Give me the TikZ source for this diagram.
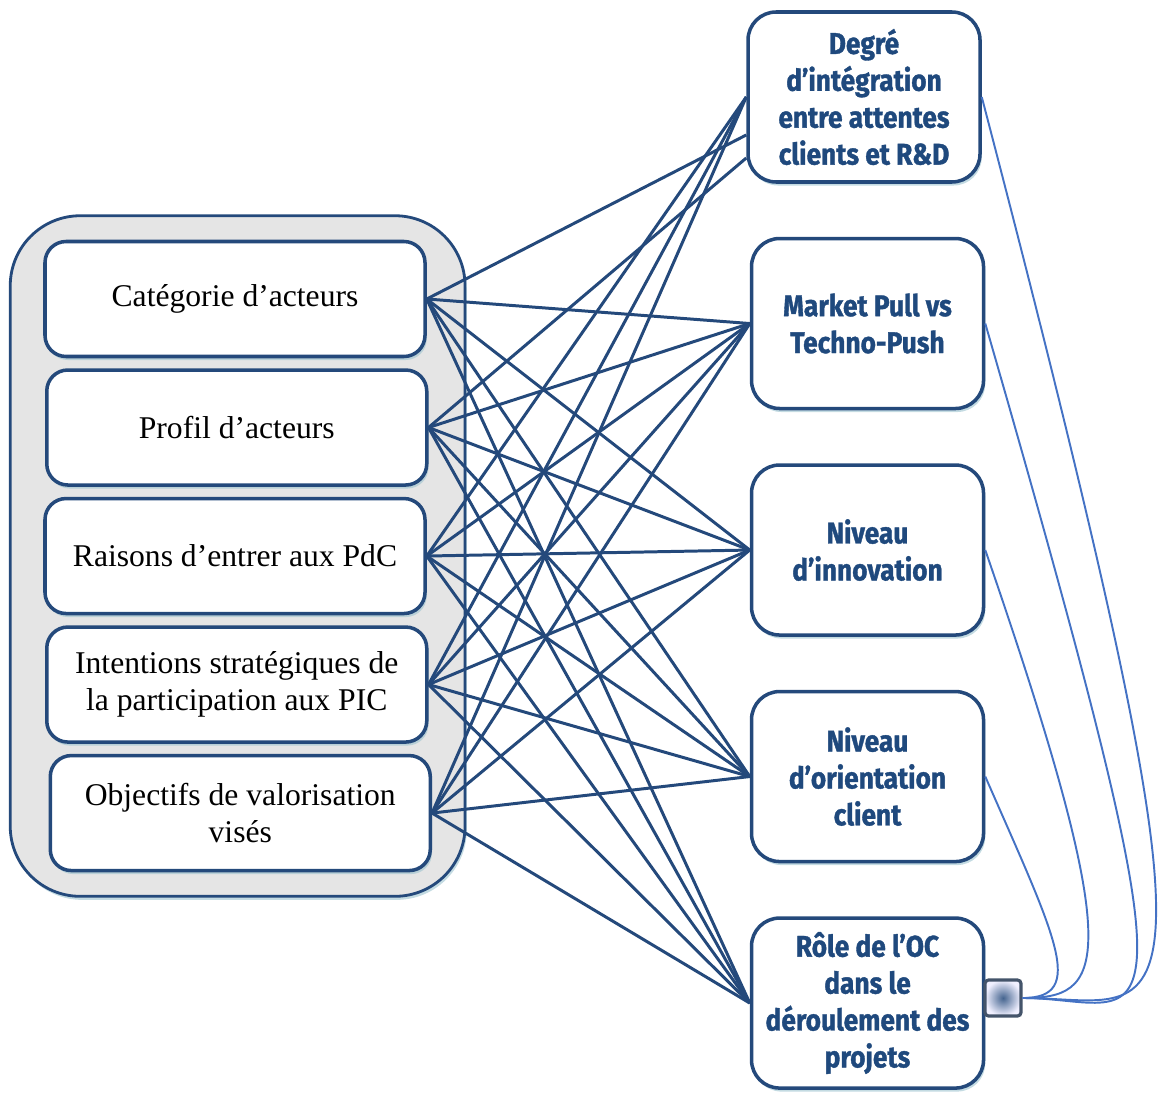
\documentclass[tikz,border=0pt]{standalone}
\usepackage{fontspec}
\setmainfont{Liberation Serif}
\newfontfamily\dimfont[FakeStretch=0.88,FakeBold=1.2]{Fira Sans}
\usepackage{tikz}
\usetikzlibrary{positioning,fit,backgrounds,shadows,calc}
\usepackage{xcolor}
\definecolor{linkblue}{HTML}{24497B}
\definecolor{dimtext}{HTML}{1F497D}
\definecolor{loopblue}{HTML}{4472C4}
\definecolor{glow}{HTML}{9CC3CF}
\definecolor{hubgray}{HTML}{44546A}

\begin{document}
\begin{tikzpicture}[
  crit/.style={draw=linkblue, line width=2pt, fill=white, rounded corners=12pt,
               minimum width=7.6cm, minimum height=2.3cm, align=center,
               font=\fontsize{18}{21}\selectfont,
               drop shadow={shadow xshift=1pt, shadow yshift=-2pt, fill=glow, opacity=.6}},
  dim/.style={draw=linkblue, line width=2pt, fill=white, rounded corners=16pt,
              minimum width=4.64cm, minimum height=3.4cm, align=center,
              text=dimtext, font=\dimfont\bfseries\fontsize{17}{21}\selectfont,
              drop shadow={shadow xshift=1pt, shadow yshift=-2pt, fill=glow, opacity=.6}},
  link/.style={linkblue, line width=1.7pt},
  loop/.style={loopblue, line width=1.1pt}
]
  \useasboundingbox (0,0) rectangle (23.22,-21.86);

  % criteres (gauche)
  \node[crit] (cat) at (4.7,-5.98) {Catégorie d’acteurs};
  \node[crit, below=0.2cm of cat, xshift=1pt] (prof) {Profil d’acteurs};
  \node[crit, below=0.2cm of prof, xshift=-1pt] (rais) {Raisons d’entrer aux PdC};
  \node[crit, below=0.2cm of rais, xshift=1pt] (intent) {Intentions stratégiques de\\la participation aux PIC};
  \node[crit, below=0.2cm of intent, xshift=2pt] (obj) {Objectifs de valorisation\\visés};

  \begin{scope}[on background layer]
    \node[fit=(cat)(obj), inner xsep=0.66cm, inner ysep=0.48cm, rounded corners=1.4cm,
          draw=linkblue, line width=1.6pt, fill=gray!20,
          drop shadow={shadow xshift=1pt, shadow yshift=-2pt, fill=glow, opacity=.6}] (group) {};
  \end{scope}

  % dimensions (droite)
  \node[dim] (integ) at (17.28,-1.94) {Degré\\d’intégration\\entre attentes\\clients et R\&D};
  \node[dim, below=1.06cm of integ, xshift=2pt] (market) {Market Pull vs\\Techno-Push};
  \node[dim, below=1.06cm of market] (innov) {Niveau\\d’innovation};
  \node[dim, below=1.06cm of innov] (orient) {Niveau\\d’orientation\\client};
  \node[dim, below=1.06cm of orient] (role) {Rôle de l’OC\\dans le\\déroulement des\\projets};

  % liens critere -> dimension
  \draw[link] (cat.east) -- ([yshift=-0.76cm]integ.west);
  \draw[link] (prof.east) -- ([yshift=-1.22cm]integ.west);
  \foreach \a in {rais,intent,obj}
    \draw[link] (\a.east) -- (integ.west);
  \foreach \a in {cat,prof,rais,intent,obj}
    \foreach \b in {market,innov,orient,role}
      \draw[link] (\a.east) -- (\b.west);

  % noeud de regroupement
  \node[draw=hubgray, line width=1.8pt, rounded corners=2pt, minimum size=0.72cm,
        shading=radial, inner color=linkblue!85, outer color=blue!6] (hub) at (20.06,-19.96) {};

  \draw[loop] (integ.east) .. controls +(5.2,-19.9) and +(3.0,0) .. (hub.east);
  \draw[loop] (market.east) .. controls +(4.5,-15.6) and +(2.6,0) .. (hub.east);
  \draw[loop] (innov.east) .. controls +(2.9,-8.4) and +(1.6,0) .. (hub.east);
  \draw[loop] (orient.east) .. controls +(1.4,-3.2) and +(1.3,0) .. (hub.east);
\end{tikzpicture}
\end{document}
